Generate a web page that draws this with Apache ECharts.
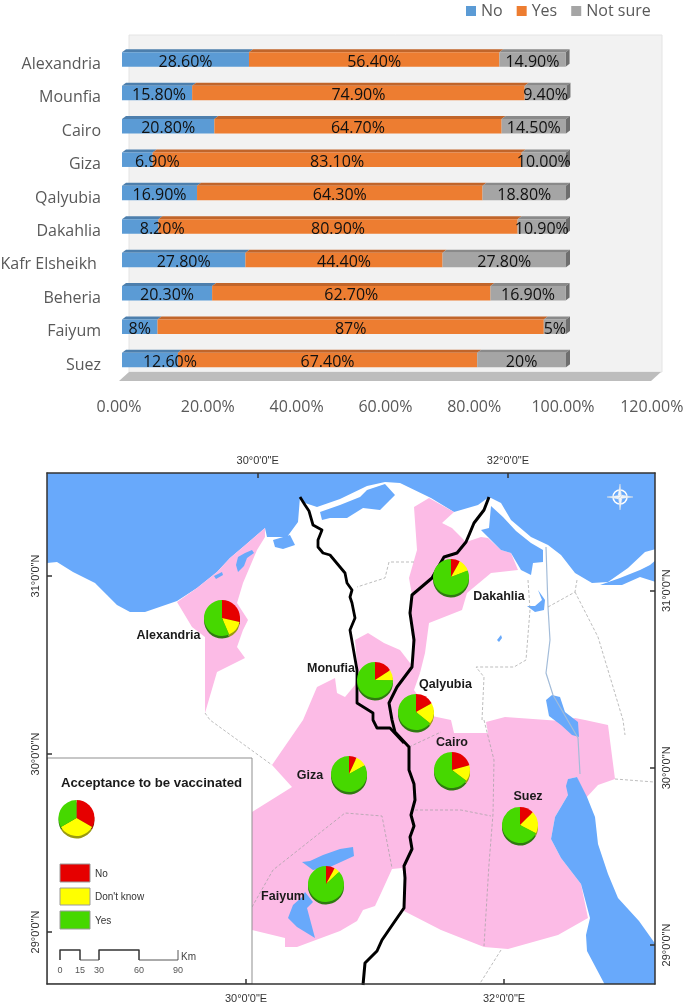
<!DOCTYPE html>
<html><head><meta charset="utf-8">
<script src="https://cdn.jsdelivr.net/npm/echarts@6/dist/echarts.min.js"></script>
<style>html,body{margin:0;padding:0;background:#fff}#c{width:684px;height:1005px}</style></head>
<body><div id="c"></div>
<script>
// ---- bar chart data ----
const categories = ['Alexandria','Mounfia','Cairo','Giza','Qalyubia','Dakahlia','Kafr Elsheikh','Beheria','Faiyum','Suez'];
const noValues   = [28.6,15.8,20.8,6.9,16.9,8.2,27.8,20.3,8,12.6];
const yesValues  = [56.4,74.9,64.7,83.1,64.3,80.9,44.4,62.7,87,67.4];
const notSure    = [14.9,9.4,14.5,10,18.8,10.9,27.8,16.9,5,20];
const noLabels   = ['28.60%','15.80%','20.80%','6.90%','16.90%','8.20%','27.80%','20.30%','8%','12.60%'];
const yesLabels  = ['56.40%','74.90%','64.70%','83.10%','64.30%','80.90%','44.40%','62.70%','87%','67.40%'];
const sureLabels = ['14.90%','9.40%','14.50%','10.00%','18.80%','10.90%','27.80%','16.90%','5%','20%'];
const noLabelShift = [0,2,0,20,0,22,0,0,0,20];
const xTickStep = 20, xMax = 120;

// ---- map pies (No, Don't know, Yes) ----
const pieNames = ['Alexandria','Dakahlia','Monufia','Qalyubia','Cairo','Giza','Faiyum','Suez'];
const pieNo    = [28.6,8.2,15.8,16.9,20.8,6.9,8,12.6];
const pieDK    = [14.9,10.9,9.4,18.8,14.5,10,5,20];
const pieYes   = [56.4,80.9,74.9,64.3,64.7,83.1,87,67.4];
const pieSites = [[222,618],[451,577],[375,680],[416,712],[452,770],[349,774],[326,884],[520,825]];
const keyPie   = [1,1,1];
const keySite  = [76.5,818];

// ---- map geography, in map units (frame 47..655 by 473..984) ----
const seaCoast = [[47,473],[655,473],[656,549],[645,552],[628,568],[608,582],[592,583],[575,573],[561,555],[548,545],[531,537],[511,520],[501,503],[489,497],[478,505],[454,512],[431,498],[400,483],[385,482],[367,486],[340,499],[317,507],[305,503],[300,497],[298,522],[287,537],[267,537],[265,528],[243,547],[230,558],[217,572],[197,588],[177,601],[145,612],[130,612],[117,605],[107,595],[95,583],[73,572],[57,562],[47,563]];
const landAlex = [[177,602],[197,588],[217,572],[230,558],[243,547],[265,528],[265,537],[257,550],[243,583],[237,603],[248,620],[243,630],[237,647],[245,658],[217,672],[205,713],[205,637],[192,627]];
const landDak  = [[414,507],[429,498],[454,512],[442,523],[452,528],[466,542],[481,537],[488,538],[501,550],[511,553],[518,570],[491,573],[467,593],[462,610],[429,623],[425,653],[420,673],[412,667],[412,640],[410,613],[412,595],[409,578],[417,550]];
const landSouth = [[355,640],[368,633],[384,643],[400,650],[410,663],[420,673],[414,690],[432,716],[451,720],[454,733],[488,733],[486,722],[505,717],[561,721],[575,718],[585,720],[608,725],[615,779],[598,785],[585,799],[577,777],[568,779],[568,795],[555,817],[551,839],[561,858],[581,884],[588,918],[558,935],[508,949],[484,947],[441,930],[404,911],[405,878],[402,868],[392,869],[382,891],[375,906],[363,910],[357,921],[340,931],[297,947],[285,947],[285,938],[252,930],[240,900],[240,820],[252,812],[292,787],[272,765],[303,720],[317,687],[335,678],[337,693],[345,697],[355,685],[358,673]];
const lakes = [
 [[320,512],[340,505],[360,497],[367,490],[385,484],[395,495],[390,500],[380,510],[363,508],[347,518],[330,518],[322,520]],
 [[273,540],[290,535],[295,545],[283,549],[275,547]],
 [[238,557],[245,553],[252,550],[254,553],[247,558],[244,566],[238,572],[236,565]],
 [[214,576],[222,572],[223,575],[216,579]],
 [[491,506],[503,517],[516,531],[531,543],[543,550],[543,562],[533,563],[531,575],[521,570],[511,553],[501,550],[488,537],[481,530],[489,528]],
 [[600,585],[620,578],[640,570],[650,565],[656,560],[656,582],[640,577],[622,585]],
 [[538,590],[545,600],[544,610],[535,612],[527,606],[535,606],[542,600]],
 [[497,640],[501,635],[502,638],[499,642]],
 [[546,700],[552,695],[560,697],[565,712],[578,722],[579,737],[572,735],[561,725],[549,716]],
 [[568,779],[577,777],[587,797],[595,817],[598,844],[608,874],[618,898],[639,921],[656,945],[656,985],[605,985],[587,951],[586,935],[590,918],[581,884],[561,858],[551,839],[555,817],[568,795],[566,786]],
 [[302,862],[313,870],[330,867],[354,856],[353,847],[340,849],[323,855],[310,861]],
 [[305,892],[313,902],[307,908],[315,938],[297,927],[288,918],[293,905],[302,897]]
];
const canal = [[546,547],[548,607],[550,640],[546,673],[553,695],[578,738],[580,774]];
const borders = [
 [[252,907],[273,870],[345,813],[382,816],[392,868]],
 [[415,810],[461,810],[491,816]],
 [[484,720],[494,760],[493,814],[489,864],[484,946]],
 [[409,747],[441,732]],
 [[205,713],[210,720],[272,765]],
 [[577,580],[575,592],[548,607]],
 [[575,592],[598,637],[623,720],[625,735]],
 [[615,779],[654,782]],
 [[528,580],[530,610],[526,660],[514,667],[476,667],[484,677],[482,720]],
 [[414,562],[389,562],[385,578],[357,587]],
 [[501,950],[479,985]]
];
const riverWest = [[300,497],[305,505],[309,511],[313,525],[322,530],[318,540],[318,547],[323,553],[330,555],[345,573],[347,583],[352,590],[350,597],[352,603],[355,618],[350,630],[353,647],[357,670],[357,703],[373,713],[373,720],[377,728],[390,728],[404,743]];
const riverEast = [[489,497],[484,510],[474,523],[469,535],[466,542],[457,553],[444,557],[432,578],[412,595],[410,613],[414,640],[412,667],[397,687],[389,703],[392,720],[395,732],[409,747],[409,770],[414,784],[415,800],[411,815],[414,826],[410,837],[412,849],[404,866],[405,878],[404,908],[395,921],[382,940],[377,951],[365,963],[363,985]];
const keyBox = [[47,758],[252,758],[252,984],[47,984]];
const swatchRed = [[60,864],[90,864],[90,882],[60,882]];
const swatchYel = [[60,888],[90,888],[90,905],[60,905]];
const swatchGrn = [[60,911],[90,911],[90,929],[60,929]];
const scaleThick = [[[60,960],[60,950],[80,950],[80,960]],[[99,960],[99,950],[139,950],[139,960]]];
const scaleThin  = [[[80,960],[99,960]],[[139,960],[178,960],[178,950]]];
const compassSite = [620,497];
const mapLabels = [
 ['Alexandria',168.5,636],['Monufia',331,669],['Dakahlia',499,597],['Qalyubia',445.5,685],
 ['Cairo',452,743],['Suez',528,797],['Giza',310,776],['Faiyum',283,897]
];
const keyTitle = ['Acceptance to be vaccinated',151.5,783];
const keyLabels = [['No',95,874],["Don't know",95,897],['Yes',95,921]];
const scaleLabels = [['0',60,971],['15',80,971],['30',99,971],['60',139,971],['90',178,971]];
const scaleUnit = ['Km',181,957];
const lonTicks = [30,32], latTicks = [29,30,31];

const BAR_H = 14.5, DX = 4, DY = 3;
const BLUE='#5b9bd5', ORANGE='#ed7d31', GREY='#a5a5a5';
const FONT = '"Open Sans"', MAPFONT='"Liberation Sans"';
const PINK='#fcbbe6', SEA='#68a9fb';

function area(pts, fill, z, stroke){
  return {type:'custom', xAxisIndex:3, yAxisIndex:3, silent:true, z:z, data:[pts[0]], clip:true,
    renderItem:function(p,api){
      return {type:'polygon', shape:{points:pts.map(q=>api.coord(q))}, style:{fill:fill, stroke:stroke||null, lineWidth:stroke?1:0}};
    }};
}
function line(pts, color, width, z, dash){
  return {type:'line', xAxisIndex:3, yAxisIndex:3, silent:true, z:z, data:pts, showSymbol:false, symbol:'none',
    lineStyle:{color:color,width:width,type:dash||'solid',join:'round'}};
}
function texts(items, font, fill, z, align){
  return {type:'custom', xAxisIndex:3, yAxisIndex:3, silent:true, z:z, data:items.map(t=>[t[1],t[2],t[0]]),
    dimensions:['x','y',{name:'t',type:'ordinal'}], encode:{x:0,y:1},
    renderItem:function(p,api){
      const it=items[p.dataIndex], c=api.coord([it[1],it[2]]);
      return {type:'text', x:c[0], y:c[1], style:{text:it[0], font:font, fill:fill, align:align||'center', verticalAlign:'middle'}};
    }};
}
function depth(a, b, dark, sideDark){
  const rows=[];
  categories.forEach((c,i)=>{
    const s=a?a.reduce((t,arr)=>t+arr[i],0):0, e=s+b[i];
    rows.push([s,e,i]);
  });
  return {type:'custom', xAxisIndex:0, yAxisIndex:0, silent:true, z:1, data:rows, encode:{x:[0,1],y:2},
    renderItem:function(p,api){
      const r=rows[p.dataIndex], A=api.coord([r[0],r[2]]), B=api.coord([r[1],r[2]]);
      const t=A[1]-BAR_H/2, bt=A[1]+BAR_H/2;
      const kids=[{type:'polygon',shape:{points:[[A[0],t],[A[0]+DX,t-DY],[B[0]+DX,t-DY],[B[0],t]]},style:{fill:dark}}];
      if(sideDark) kids.push({type:'polygon',shape:{points:[[B[0],t],[B[0]+DX,t-DY],[B[0]+DX,bt-DY],[B[0],bt]]},style:{fill:sideDark}});
      return {type:'group',children:kids};
    }};
}
function barSeries(name,vals,labels,color,shift){
  return {name:name,type:'bar',stack:'s',xAxisIndex:0,yAxisIndex:0,barWidth:BAR_H,z:2,
    itemStyle:{color:color},
    data:vals.map((v,i)=>({value:v,label:{show:true,position:'inside',formatter:labels[i],color:'#111',
      fontFamily:FONT,fontSize:16,offset:[shift?shift[i]:0,2.5]}}))};
}

const el = document.getElementById('c');
const chart = echarts.init(el,null,{renderer:'canvas'});

const baseSeries = [
  depth(null,noValues,'#4d7fad'),
  depth([noValues],yesValues,'#c1652a'),
  depth([noValues,yesValues],notSure,'#8a8a8a','#6e6e6e'),
  barSeries('No',noValues,noLabels,BLUE,noLabelShift),
  barSeries('Yes',yesValues,yesLabels,ORANGE),
  barSeries('Not sure',notSure,sureLabels,GREY),
  area(seaCoast,SEA,1),
  area(landAlex,PINK,1.1),
  area(landDak,PINK,1.1),
  area(landSouth,PINK,1.1),
].concat(
  lakes.map(l=>area(l,SEA,1.2)),
  [line(canal,'#a3bcd9',1.2,1.25)],
  borders.map(b=>line(b,'#a0a0a0',0.7,1.3,[3,2])),
  [line(riverWest,'#000',2.8,1.5),line(riverEast,'#000',3,1.5)],
  [{type:'custom',xAxisIndex:3,yAxisIndex:3,silent:true,z:1.6,data:[compassSite],
    renderItem:function(p,api){
      const c=api.coord(compassSite), kids=[{type:'circle',shape:{cx:0,cy:0,r:7},style:{fill:null,stroke:'#fff',lineWidth:1.5}}];
      [[0,-13,2,2],[13,0,2,-2],[0,13,-2,-2],[-13,0,-2,2]].forEach(s=>{
        kids.push({type:'polygon',shape:{points:[[0,0],[s[0],s[1]],[s[2],s[3]]]},style:{fill:'#fff',stroke:'#c8d4e6',lineWidth:0.4}});
        kids.push({type:'polygon',shape:{points:[[0,0],[s[0],s[1]],[-s[2],-s[3]]]},style:{fill:'#fff',stroke:'#c8d4e6',lineWidth:0.4}});
      });
      return {type:'group',x:c[0],y:c[1],children:kids};
    }}],
  [area(keyBox,'#fff',3,'#8f8f8f'),
   area(swatchRed,'#e60000',3.1,'#9a9a9a'),area(swatchYel,'#ffff00',3.1,'#9a9a9a'),area(swatchGrn,'#46d800',3.1,'#9a9a9a')],
  scaleThick.map(s=>line(s,'#333',1.5,3.1)),
  scaleThin.map(s=>line(s,'#444',0.9,3.1)),
  [texts(mapLabels,'bold 12.5px '+MAPFONT,'#1a1a1a',6),
   texts([keyTitle],'bold 13.2px '+MAPFONT,'#1a1a1a',3.2),
   texts(keyLabels,'10px '+MAPFONT,'#333',3.2,'left'),
   texts(scaleLabels,'9px '+MAPFONT,'#555',3.2),
   texts([scaleUnit],'10px '+MAPFONT,'#444',3.2,'left')]
);

const latLabel = v => v+'°0\'0"N';
const lonLabel = v => v+'°0\'0"E';
const frame = {show:true,lineStyle:{color:'#333',width:1.5}};
const tick = vals => ({show:true,inside:true,length:5,customValues:vals,lineStyle:{color:'#333',width:1.5}});
const geoLabel = (vals,fn,rot,m) => ({show:true,customValues:vals,formatter:fn,color:'#333',fontFamily:MAPFONT,fontSize:11,rotate:rot,margin:m,showMinLabel:true,showMaxLabel:true,hideOverlap:false});

const option = {
  animation:false,
  backgroundColor:'#fff',
  legend:{data:['No','Yes','Not sure'],left:461,top:-2,itemWidth:10,itemHeight:10,itemGap:14,icon:'rect',
    textStyle:{fontFamily:FONT,fontSize:16,color:'#595959'},selectedMode:false},
  graphic:[
    {type:'rect',z:0,shape:{x:129,y:35,width:533,height:337},style:{fill:'#f2f2f2',stroke:'#e4e4e4',lineWidth:1}},
    {type:'polygon',z:0,shape:{points:[[129,372],[661,372],[651,381],[119,381]]},style:{fill:'#bdbdbd'}}
  ],
  grid:[
    {left:122,top:42.8,width:532.8,height:334,show:false,outerBoundsMode:'none'},
    {left:47,top:473,width:608,height:511,show:false,outerBoundsMode:'none'},
    {left:47,top:473,width:608,height:511,show:false,outerBoundsMode:'none'}
  ],
  xAxis:[
    {type:'value',gridIndex:0,min:0,max:xMax,interval:xTickStep,position:'bottom',axisLine:{show:false},axisTick:{show:false},splitLine:{show:false},
     axisLabel:{formatter:v=>v.toFixed(2)+'%',color:'#595959',fontFamily:FONT,fontSize:16,margin:23,padding:[0,6,0,0]}},
    {type:'value',gridIndex:1,position:'bottom',min:28.457,max:33.17,z:7,axisLine:frame,axisTick:tick(lonTicks),splitLine:{show:false},axisLabel:geoLabel(lonTicks,lonLabel,0,9)},
    {type:'value',gridIndex:1,position:'top',min:28.316,max:33.175,z:7,axisLine:frame,axisTick:tick(lonTicks),splitLine:{show:false},axisLabel:geoLabel(lonTicks,lonLabel,0,7)},
    {type:'value',gridIndex:2,min:47,max:655,show:false}
  ],
  yAxis:[
    {type:'category',gridIndex:0,data:categories,inverse:true,axisLine:{show:false},axisTick:{show:false},
     axisLabel:{color:'#595959',fontFamily:FONT,fontSize:16,margin:21,verticalAlign:'top',lineHeight:10,
       formatter:v=>v==='Kafr Elsheikh'?v+' ':v}},
    {type:'value',gridIndex:1,position:'left',min:28.708,max:31.579,z:7,axisLine:frame,axisTick:tick(latTicks),splitLine:{show:false},axisLabel:geoLabel(latTicks,latLabel,90,6)},
    {type:'value',gridIndex:1,position:'right',min:28.78,max:31.664,z:7,axisLine:frame,axisTick:tick(latTicks),splitLine:{show:false},axisLabel:geoLabel(latTicks,latLabel,90,6)},
    {type:'value',gridIndex:2,min:473,max:984,inverse:true,show:false}
  ],
  series:baseSeries
};
chart.setOption(option);

// pies are centred through the map axes
function pieAt(name,site,vals,colors,dy,z,r){
  const c=chart.convertToPixel({gridIndex:2},site);
  return {name:name,type:'pie',silent:true,z:z,center:[c[0],c[1]+dy],radius:[0,r],startAngle:90,clockwise:true,
    label:{show:false},labelLine:{show:false},animation:false,
    data:[{name:'No',value:vals[0],itemStyle:{color:colors[0]}},{name:"Don't know",value:vals[1],itemStyle:{color:colors[1]}},{name:'Yes',value:vals[2],itemStyle:{color:colors[2]}}]};
}
const topC=['#e60000','#ffff00','#46d800'], rimC=['#8a1a00','#9a9a10','#2f7a10'];
const pies=[];
pieNames.forEach((n,i)=>{
  const v=[pieNo[i],pieDK[i],pieYes[i]];
  pies.push(pieAt(n+' rim',pieSites[i],v,rimC,2.5,4,18));
  pies.push(pieAt(n,pieSites[i],v,topC,0,5,18));
});
pies.push(pieAt('Key rim',keySite,keyPie,rimC,2.5,4,18));
pies.push(pieAt('Key',keySite,keyPie,topC,0,5,18));
chart.setOption({series:baseSeries.concat(pies)});
</script></body></html>
